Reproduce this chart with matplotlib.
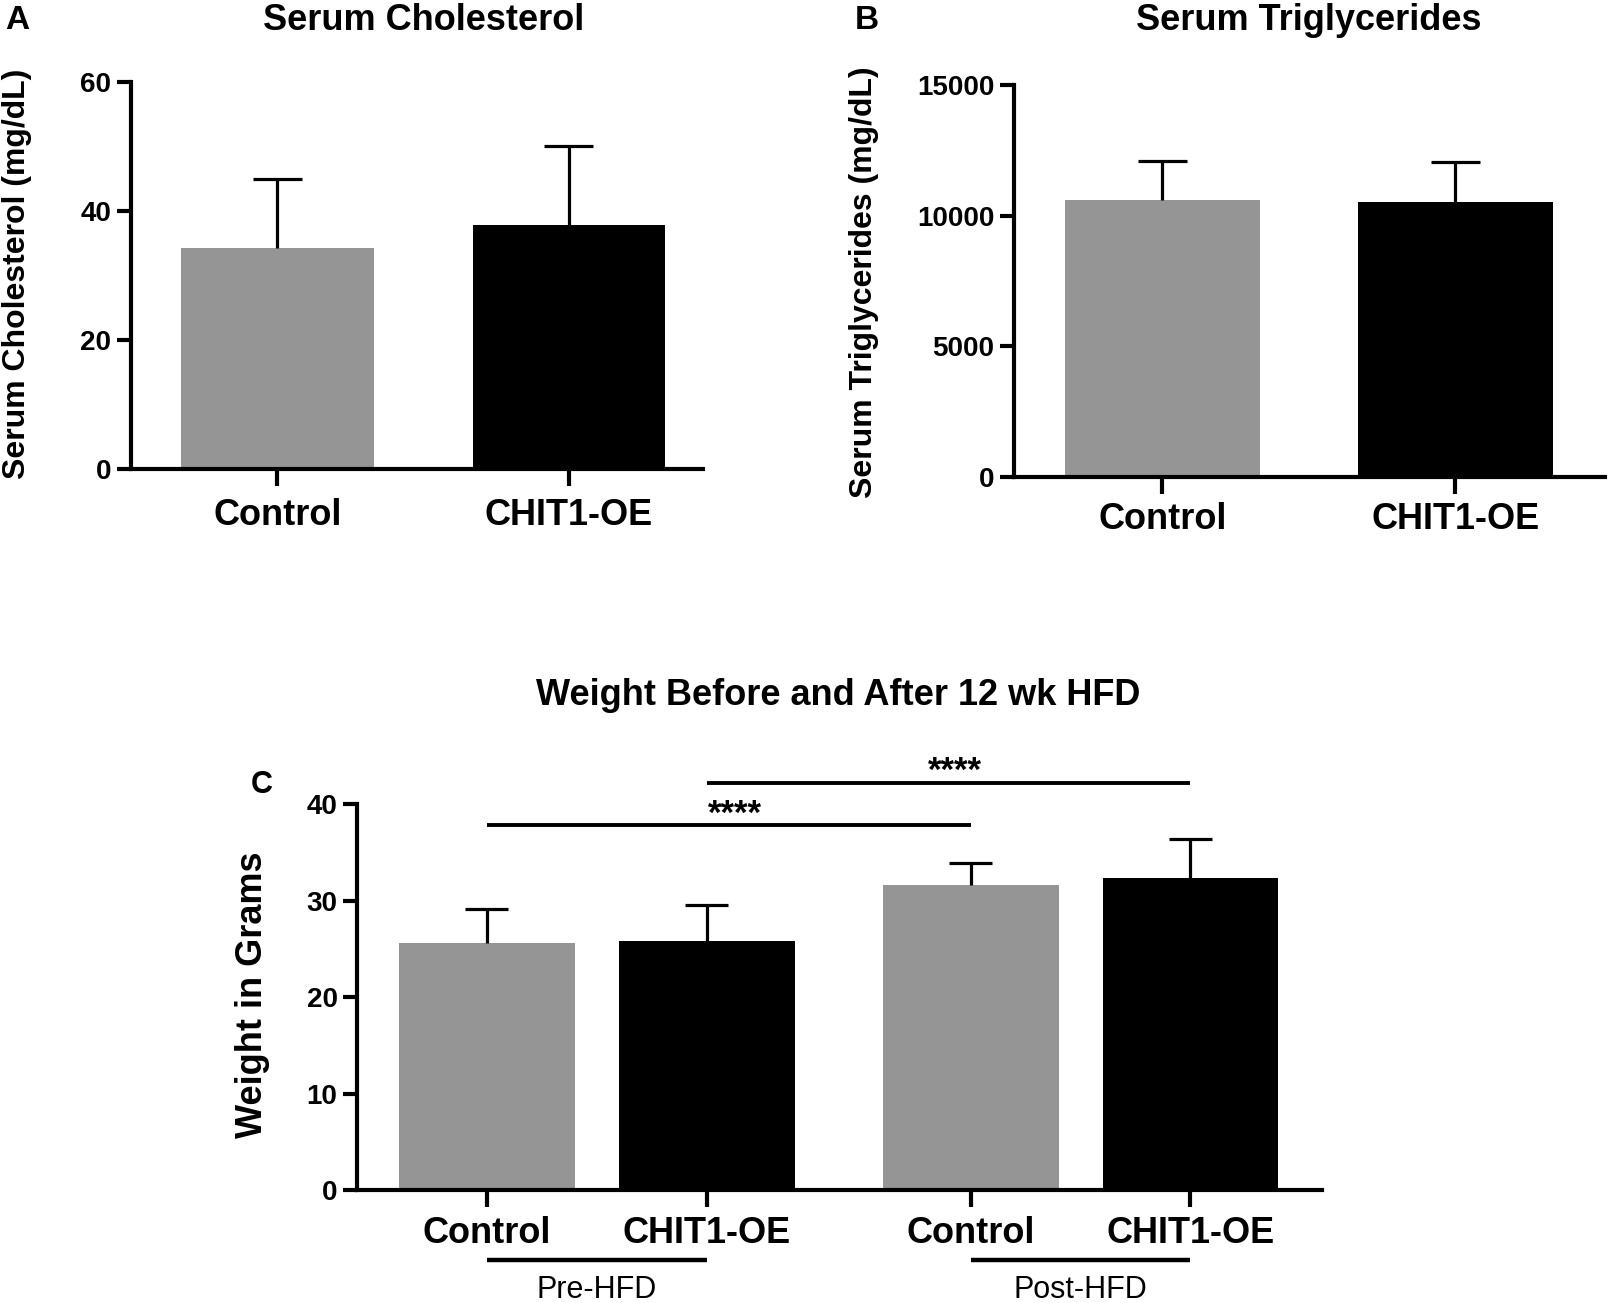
import matplotlib
matplotlib.use("Agg")
import matplotlib.pyplot as plt

plt.rcParams['font.family'] = ['Liberation Sans', 'DejaVu Sans']
plt.rcParams['font.weight'] = 'bold'

# panel A / B data
groups = ['Control', 'CHIT1-OE']
chol_mean = [34.3, 37.9]
chol_sd = [10.7, 12.2]
trig_mean = [10600, 10530]
trig_sd = [1490, 1530]

# panel C data
weight_labels = ['Control', 'CHIT1-OE', 'Control', 'CHIT1-OE']
weight_mean = [25.6, 25.8, 31.6, 32.3]
weight_sd = [3.5, 3.7, 2.3, 4.1]
weight_pos = [0, 1, 2.2, 3.2]
phase_labels = ['Pre-HFD', 'Post-HFD']
sig_pairs = [(0, 2), (1, 3)]
sig_text = ['****', '****']

bar_colors = ['#959595', '#000000', '#959595', '#000000']
AX_LW = 3.0


def style_axes(ax, xpad=9):
    ax.spines['top'].set_visible(False)
    ax.spines['right'].set_visible(False)
    ax.spines['left'].set_linewidth(AX_LW)
    ax.spines['bottom'].set_linewidth(AX_LW)
    ax.tick_params(axis='y', length=10, width=AX_LW, labelsize=20, pad=4)
    ax.tick_params(axis='x', length=12, width=AX_LW, labelsize=26, pad=xpad)


def draw_bars(ax, pos, means, sds, width, cap_half):
    ax.bar(pos, means, width=width, color=bar_colors[:len(pos)], zorder=2)
    tops = [m + s for m, s in zip(means, sds)]
    ax.vlines(pos, means, tops, color='black', lw=2.3, zorder=3)
    ax.hlines(tops, [p - cap_half for p in pos], [p + cap_half for p in pos],
              color='black', lw=2.3, zorder=3)


fig = plt.figure(figsize=(16.09, 13.03), dpi=100)

# ---- A: cholesterol
axA = fig.add_axes([0.0812, 0.640, 0.3557, 0.297])
draw_bars(axA, [0, 1], chol_mean, chol_sd, 0.66, 0.084)
axA.set_xlim(-0.503, 1.46)
axA.set_ylim(0, 60)
axA.set_yticks([0, 20, 40, 60])
axA.set_xticks([0, 1])
axA.set_xticklabels(groups)
style_axes(axA)
fig.text(0.003, 0.984, 'A', fontsize=24, va='center', ha='left')
fig.text(0.263, 0.984, 'Serum Cholesterol', fontsize=26, va='center', ha='center')
fig.text(0.0105, 0.790, 'Serum Cholesterol (mg/dL)', fontsize=23, rotation=90,
         va='center', ha='center')

# ---- B: triglycerides
axB = fig.add_axes([0.630, 0.6342, 0.3673, 0.3006])
draw_bars(axB, [0, 1], trig_mean, trig_sd, 0.665, 0.084)
axB.set_xlim(-0.507, 1.51)
axB.set_ylim(0, 15000)
axB.set_yticks([0, 5000, 10000, 15000])
axB.set_xticks([0, 1])
axB.set_xticklabels(groups)
style_axes(axB, xpad=6)
fig.text(0.531, 0.984, 'B', fontsize=24, va='center', ha='left')
fig.text(0.8136, 0.984, 'Serum Triglycerides', fontsize=26, va='center', ha='center')
fig.text(0.537, 0.7836, 'Serum Triglycerides (mg/dL)', fontsize=23, rotation=90,
         va='center', ha='center')

# ---- C: weight
axC = fig.add_axes([0.2219, 0.0867, 0.600, 0.2962])
draw_bars(axC, weight_pos, weight_mean, weight_sd, 0.8, 0.098)
axC.set_xlim(-0.59, 3.8)
axC.set_ylim(0, 40)
axC.set_yticks([0, 10, 20, 30, 40])
axC.set_xticks(weight_pos)
axC.set_xticklabels(weight_labels)
style_axes(axC, xpad=7)

sig_y = [37.8, 42.2]
for (i, j), y, t in zip(sig_pairs, sig_y, sig_text):
    xi, xj = weight_pos[i], weight_pos[j]
    axC.plot([xi, xj], [y, y], color='black', lw=2.8, clip_on=False,
             solid_capstyle='butt')
    axC.text((xi + xj) / 2 + 0.03, y - 0.55, t, fontsize=25, ha='center',
             va='bottom')

trans = axC.get_xaxis_transform()
for k, lab in enumerate(phase_labels):
    x0, x1 = weight_pos[2 * k], weight_pos[2 * k + 1]
    axC.plot([x0, x1], [-0.181, -0.181], color='black', lw=3.2,
             transform=trans, clip_on=False, solid_capstyle='butt')
    axC.text((x0 + x1) / 2, -0.259, lab, transform=trans, fontsize=22,
             fontweight='normal', ha='center', va='center')

fig.text(0.5208, 0.466, 'Weight Before and After 12 wk HFD', fontsize=26,
         va='center', ha='center')
fig.text(0.156, 0.3976, 'C', fontsize=22, va='center', ha='left')
fig.text(0.157, 0.2364, 'Weight in Grams', fontsize=26, rotation=90,
         va='center', ha='center')

fig.savefig('out.png', dpi=100)
